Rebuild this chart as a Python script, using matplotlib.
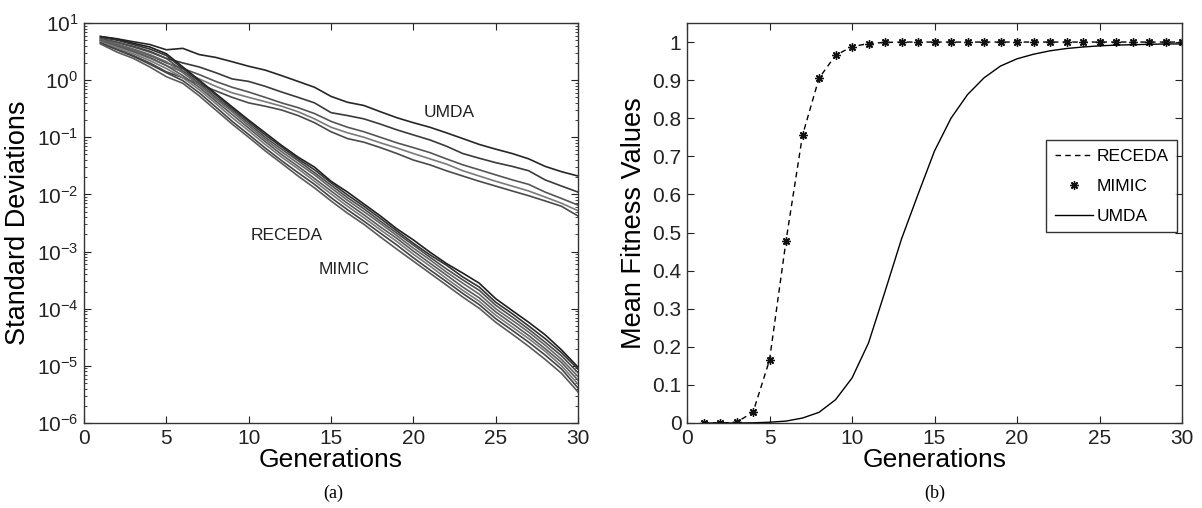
import numpy as np
import matplotlib
matplotlib.use("Agg")
import matplotlib.pyplot as plt
from matplotlib.ticker import LogLocator, NullFormatter, MultipleLocator

plt.rcParams['font.family'] = ['Liberation Sans', 'DejaVu Sans']
plt.rcParams['mathtext.fontset'] = 'custom'
plt.rcParams['mathtext.rm'] = 'Liberation Sans'
plt.rcParams['mathtext.it'] = 'Liberation Sans:italic'
plt.rcParams['mathtext.default'] = 'regular'

generations = list(range(1, 31))

# ---- (a) standard deviations: UMDA runs ----
umda_sd_1 = [5.8, 5.3, 4.7, 4.2, 3.4, 3.6, 2.8, 2.5, 2.1, 1.75, 1.5, 1.2, 0.95, 0.75, 0.52,
             0.41, 0.36, 0.28, 0.22, 0.18, 0.15, 0.12, 0.095, 0.075, 0.062, 0.052, 0.042, 0.031, 0.025, 0.021]
umda_sd_2 = [5.3, 4.6, 3.9, 3.2, 2.4, 2.0, 1.7, 1.35, 1.05, 0.95, 0.78, 0.62, 0.5, 0.4, 0.27,
             0.24, 0.21, 0.17, 0.135, 0.11, 0.09, 0.07, 0.052, 0.043, 0.036, 0.031, 0.026, 0.018, 0.014, 0.011]
umda_sd_3 = [5.0, 4.2, 3.4, 2.7, 2.0, 1.6, 1.25, 0.95, 0.75, 0.62, 0.5, 0.4, 0.33, 0.26, 0.19,
             0.15, 0.125, 0.1, 0.08, 0.066, 0.054, 0.042, 0.033, 0.027, 0.022, 0.018, 0.015, 0.011, 0.0085, 0.0065]
umda_sd_4 = [4.8, 3.9, 3.1, 2.4, 1.8, 1.4, 1.05, 0.78, 0.6, 0.5, 0.42, 0.35, 0.28, 0.21, 0.15,
             0.12, 0.1, 0.08, 0.065, 0.052, 0.042, 0.034, 0.026, 0.021, 0.017, 0.014, 0.0115, 0.009, 0.007, 0.0052]
umda_sd_5 = [4.5, 3.5, 2.7, 2.0, 1.4, 1.1, 0.85, 0.65, 0.5, 0.4, 0.35, 0.3, 0.24, 0.18, 0.125,
             0.095, 0.082, 0.066, 0.052, 0.04, 0.033, 0.026, 0.021, 0.017, 0.014, 0.0115, 0.0095, 0.0077, 0.0062, 0.0042]

# ---- (a) standard deviations: RECEDA / MIMIC runs ----
rm_sd_1 = [5.8, 5.2, 4.4, 3.8, 2.9, 1.7, 1.0, 0.58, 0.34, 0.2, 0.12, 0.072, 0.045, 0.03, 0.017,
           0.011, 0.0068, 0.0042, 0.0025, 0.0016, 0.00098, 0.00062, 0.00042, 0.00028, 0.00015,
           9.3e-5, 5.8e-5, 3.5e-5, 1.9e-5, 9.5e-6]
rm_sd_2 = [5.6, 5.0, 4.2, 3.5, 2.7, 1.6, 0.95, 0.55, 0.32, 0.19, 0.11, 0.068, 0.042, 0.027, 0.016,
           0.0098, 0.0062, 0.0038, 0.0023, 0.0014, 0.00088, 0.00058, 0.00036, 0.00024, 0.00013,
           8.2e-5, 5.0e-5, 3.0e-5, 1.7e-5, 8.8e-6]
rm_sd_3 = [5.3, 4.6, 3.8, 3.1, 2.4, 1.45, 0.88, 0.5, 0.3, 0.175, 0.1, 0.062, 0.039, 0.024, 0.0145,
           0.0088, 0.0056, 0.0034, 0.0021, 0.0013, 0.0008, 0.0005, 0.00032, 0.00021, 0.000115,
           7.2e-5, 4.4e-5, 2.6e-5, 1.5e-5, 7.6e-6]
rm_sd_4 = [5.1, 4.3, 3.5, 2.8, 2.1, 1.35, 0.82, 0.47, 0.28, 0.16, 0.092, 0.056, 0.035, 0.022, 0.013,
           0.0079, 0.005, 0.0031, 0.0019, 0.00115, 0.00072, 0.00044, 0.00028, 0.00018, 0.0001,
           6.3e-5, 3.9e-5, 2.3e-5, 1.3e-5, 6.5e-6]
rm_sd_5 = [4.9, 4.0, 3.2, 2.5, 1.8, 1.2, 0.75, 0.43, 0.25, 0.145, 0.084, 0.05, 0.031, 0.019, 0.0115,
           0.007, 0.0044, 0.0027, 0.0017, 0.00102, 0.00063, 0.00039, 0.00024, 0.000155, 8.8e-5,
           5.5e-5, 3.4e-5, 2.0e-5, 1.15e-5, 5.6e-6]
rm_sd_6 = [4.7, 3.7, 2.9, 2.2, 1.6, 1.1, 0.68, 0.39, 0.22, 0.13, 0.075, 0.045, 0.028, 0.017, 0.0102,
           0.0062, 0.0039, 0.0024, 0.0015, 0.0009, 0.00056, 0.00034, 0.00021, 0.000135, 7.7e-5,
           4.8e-5, 3.0e-5, 1.8e-5, 1.0e-5, 4.8e-6]
rm_sd_7 = [4.5, 3.4, 2.6, 1.9, 1.35, 0.98, 0.6, 0.34, 0.19, 0.112, 0.065, 0.039, 0.024, 0.015, 0.0088,
           0.0054, 0.0034, 0.0021, 0.0013, 0.00078, 0.00048, 0.0003, 0.000185, 0.000118, 6.7e-5,
           4.2e-5, 2.6e-5, 1.55e-5, 8.8e-6, 4.1e-6]
rm_sd_8 = [4.3, 3.1, 2.4, 1.7, 1.15, 0.88, 0.53, 0.3, 0.17, 0.1, 0.058, 0.035, 0.021, 0.013, 0.0077,
           0.0047, 0.003, 0.0018, 0.0011, 0.00068, 0.00042, 0.00026, 0.00016, 0.000102, 5.8e-5,
           3.6e-5, 2.2e-5, 1.3e-5, 7.4e-6, 3.5e-6]

# ---- (b) mean fitness ----
receda_fit = [0.0, 0.0, 0.002, 0.028, 0.165, 0.478, 0.755, 0.905, 0.965, 0.988, 0.996, 0.999, 1.0, 1.0, 1.0,
              1.0, 1.0, 1.0, 1.0, 1.0, 1.0, 1.0, 1.0, 1.0, 1.0, 1.0, 1.0, 1.0, 1.0, 1.0]
mimic_fit = [0.0, 0.0, 0.002, 0.028, 0.165, 0.478, 0.755, 0.905, 0.965, 0.988, 0.996, 0.999, 1.0, 1.0, 1.0,
             1.0, 1.0, 1.0, 1.0, 1.0, 1.0, 1.0, 1.0, 1.0, 1.0, 1.0, 1.0, 1.0, 1.0, 1.0]
umda_fit = [0.0, 0.0, 0.0, 0.0005, 0.002, 0.005, 0.013, 0.028, 0.061, 0.118, 0.21, 0.345, 0.483, 0.6, 0.714,
            0.8, 0.862, 0.906, 0.937, 0.956, 0.968, 0.977, 0.983, 0.987, 0.99, 0.992, 0.993, 0.994, 0.995, 0.995]

umda_runs = [umda_sd_1, umda_sd_2, umda_sd_3, umda_sd_4, umda_sd_5]
rm_runs = [rm_sd_1, rm_sd_2, rm_sd_3, rm_sd_4, rm_sd_5, rm_sd_6, rm_sd_7, rm_sd_8]
umda_colors = ['#262626', '#3a3a3a', '#555555', '#7a7a7a', '#4a4a4a']
rm_colors = ['#1e1e1e', '#333333', '#4d4d4d', '#666666', '#595959', '#7a7a7a', '#444444', '#5a5a5a']

fig = plt.figure(figsize=(12.02, 5.08), dpi=100)
W, H = 1202, 508
ax1 = fig.add_axes([84 / W, (H - 423) / H, 494 / W, 400 / H])
ax2 = fig.add_axes([687 / W, (H - 423) / H, 495 / W, 400 / H])

tick_fs = 15
label_fs = 19

for run, c in zip(umda_runs, umda_colors):
    ax1.plot(generations, run, color=c, lw=1.2)
for run, c in zip(rm_runs, rm_colors):
    ax1.plot(generations, run, color=c, lw=1.2)

ax1.set_yscale('log')
ax1.set_xlim(0, 30)
ax1.set_ylim(1e-6, 10)
ax1.xaxis.set_major_locator(MultipleLocator(5))
ax1.yaxis.set_major_locator(LogLocator(base=10, numticks=20))
ax1.yaxis.set_minor_locator(LogLocator(base=10, subs=np.arange(2, 10), numticks=20))
ax1.yaxis.set_minor_formatter(NullFormatter())
ax1.set_xlabel('Generations', fontsize=label_fs, labelpad=0)
ax1.set_ylabel('Standard Deviations', fontsize=19.5, labelpad=4)
ax1.text(22.2, 0.27, 'UMDA', fontsize=12.5, ha='center', va='center', color='#222222')
ax1.text(12.3, 0.0019, 'RECEDA', fontsize=12.5, ha='center', va='center', color='#222222')
ax1.text(15.8, 4.8e-4, 'MIMIC', fontsize=12.5, ha='center', va='center', color='#222222')

ax2.plot(generations, receda_fit, color='black', lw=1.0, ls=(0, (4, 3)), label='RECEDA')
ax2.plot(generations, mimic_fit, color='#111111', ls='none', marker=(8, 2, 0), ms=6, mew=1.0,
         label='MIMIC')
ax2.plot(generations, umda_fit, color='black', lw=1.0, label='UMDA')
ax2.set_xlim(0, 30)
ax2.set_ylim(0, 1.05)
ax2.xaxis.set_major_locator(MultipleLocator(5))
ax2.set_yticks(np.arange(0, 1.01, 0.1))
ax2.set_yticklabels(['0', '0.1', '0.2', '0.3', '0.4', '0.5', '0.6', '0.7', '0.8', '0.9', '1'])
ax2.set_xlabel('Generations', fontsize=label_fs, labelpad=0)
ax2.set_ylabel('Mean Fitness Values', fontsize=19.5, labelpad=4)
leg = ax2.legend(loc='upper right', bbox_to_anchor=(0.99, 0.7075), fontsize=12.5,
                 frameon=True, fancybox=False, edgecolor='black', handlelength=2.2,
                 borderpad=0.5, labelspacing=0.85, handletextpad=0.2, borderaxespad=0)
leg.get_frame().set_linewidth(1.0)

for ax in (ax1, ax2):
    ax.tick_params(which='both', direction='in', top=True, right=True, labelsize=tick_fs,
                   colors='#222222', pad=4)
    ax.tick_params(which='major', length=5, width=0.8)
    ax.tick_params(which='minor', length=2.5, width=0.6)
    for s in ax.spines.values():
        s.set_linewidth(1.0)
        s.set_color('#333333')

fig.text(333 / W, 1 - 493 / H, '(a)', fontsize=13, ha='center', va='center', family='Liberation Serif')
fig.text(935 / W, 1 - 493 / H, '(b)', fontsize=13, ha='center', va='center', family='Liberation Serif')

fig.savefig('out.png', dpi=100)
